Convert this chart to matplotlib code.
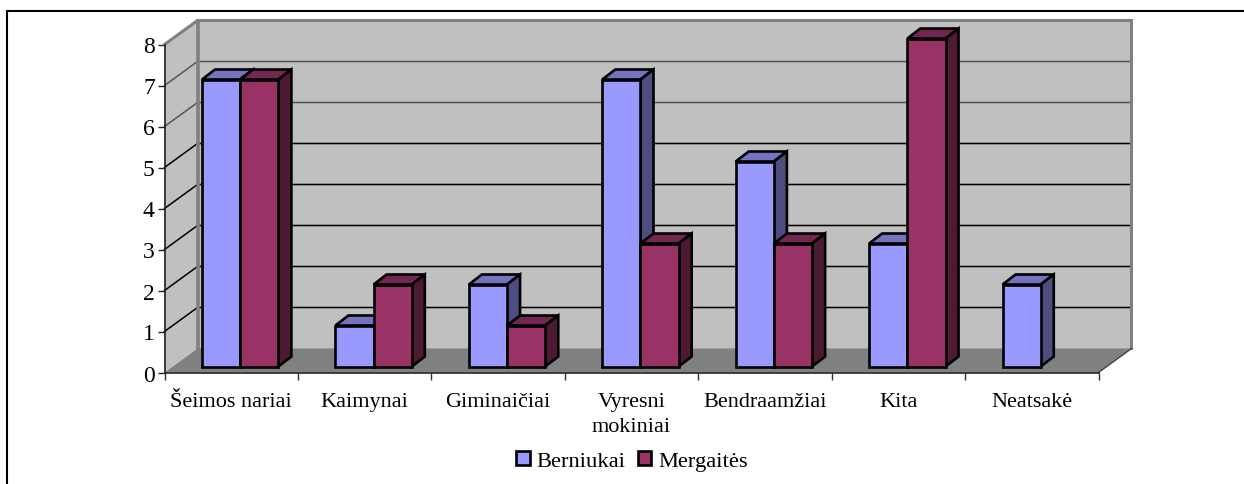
import matplotlib
matplotlib.use("Agg")
import matplotlib.pyplot as plt
from matplotlib.lines import Line2D
from matplotlib.patches import Patch, Polygon

plt.rcParams['font.family'] = ['Liberation Serif', 'DejaVu Sans']

categories = ["Šeimos nariai", "Kaimynai", "Giminaičiai", "Vyresni\nmokiniai",
              "Bendraamžiai", "Kita", "Neatsakė"]
berniukai = [7, 1, 2, 7, 5, 3, 2]
mergaites = [7, 2, 1, 3, 3, 8, 0]
y_ticks = [0, 1, 2, 3, 4, 5, 6, 7, 8]

W, H = 1244, 485
X0, X1 = 164.5, 1098.5
Y0, Y8 = 373.5, 45.5

fig = plt.figure(figsize=(W / 100, H / 100), dpi=100)
ax = fig.add_axes([X0 / W, 1 - Y0 / H, (X1 - X0) / W, (Y0 - Y8) / H])
ax.set_xlim(0, 7)
ax.set_ylim(0, 8)

# pixels -> data units, the 3D look is only a sheared copy of the front plane
ux = 7 / (X1 - X0)
uy = 8 / (Y0 - Y8)
DX, DY = 33 * ux, 24 * uy      # wall depth
BDX, BDY = 13 * ux, 10 * uy    # bar depth
GAPX, GAPY = 37.5 * ux, 6 * uy
BAR_W = 38.2 * ux


def poly(pts, fc, ec='none', lw=0, z=1):
    ax.add_patch(Polygon(pts, closed=True, facecolor=fc, edgecolor=ec, linewidth=lw,
                         joinstyle='miter', clip_on=False, zorder=z))


def bar3d(x, v, front, top, side, z):
    b = GAPY
    t = GAPY + v
    w = BAR_W
    poly([(x, t), (x + w, t), (x + w + BDX, t + BDY), (x + BDX, t + BDY)], top, 'black', 1.9, z)
    poly([(x + w, b), (x + w + BDX, b + BDY), (x + w + BDX, t + BDY), (x + w, t)], side, 'black', 1.9, z)
    poly([(x, b), (x + w, b), (x + w, t), (x, t)], front, 'black', 1.9, z)


# walls and floor
poly([(DX, DY), (7 + DX, DY), (7 + DX, 8 + DY), (DX, 8 + DY)], '#c0c0c0', z=1)
poly([(0, 0), (DX, DY), (DX, 8 + DY), (0, 8)], '#c0c0c0', z=1)
poly([(0, 0), (7, 0), (7 + DX, DY), (DX, DY)], '#808080', z=3)

for v in y_ticks[1:]:
    ax.add_line(Line2D([0, DX, 7 + DX], [v, v + DY, v + DY], color='black' if v < 6 else '#555555',
                       lw=1.1, clip_on=False, zorder=2))
# wall border
ax.add_line(Line2D([0, DX, 7 + DX, 7 + DX], [8, 8 + DY, 8 + DY, DY],
                   color='#808080', lw=2.2, clip_on=False, zorder=2, solid_joinstyle='miter'))
ax.add_line(Line2D([DX, DX], [DY, 8 + DY], color='#808080', lw=2.6, clip_on=False, zorder=2))
ax.add_line(Line2D([7, 7 + DX], [0, DY], color='#404040', lw=1, clip_on=False, zorder=4))

# bars, back to front is left to right here
for i, (b, m) in enumerate(zip(berniukai, mergaites)):
    x = i + GAPX
    if b > 0:
        bar3d(x, b, '#9999ff', '#7373bf', '#4d4d80', 5)
    if m > 0:
        bar3d(x + BAR_W, m, '#993366', '#732650', '#4d1a33', 6)

for side in ('top', 'right'):
    ax.spines[side].set_visible(False)
for side in ('left', 'bottom'):
    ax.spines[side].set_color('#222222')
    ax.spines[side].set_linewidth(1.2)
    ax.spines[side].set_zorder(7)
ax.patch.set_visible(False)

ax.set_yticks(y_ticks)
ax.set_xticks(range(8))
ax.set_xticklabels([])
ax.set_xticks([i + 0.5 for i in range(7)], minor=True)
ax.set_xticklabels(categories, minor=True, linespacing=1.4)
ax.tick_params(axis='x', which='minor', length=0, pad=14, labelsize=16)
ax.tick_params(axis='x', which='major', length=5, width=1, color='#333333')
ax.tick_params(axis='y', length=5, width=1, pad=2, labelsize=17, color='#222222')

# outer chart frame: left and top edges only, the rest is cropped away
fig.add_artist(Line2D([7.5 / W, 7.5 / W, 1], [0, 1 - 11.5 / H, 1 - 11.5 / H], color='black', lw=1.5,
                      solid_joinstyle='miter'))

handles = [Patch(facecolor='#9999ff', edgecolor='black', linewidth=1.9),
           Patch(facecolor='#993366', edgecolor='black', linewidth=1.9)]
fig.legend(handles, ["Berniukai", "Mergaitės"], ncol=2, frameon=False, fontsize=16.2,
           loc='center', bbox_to_anchor=(632 / W, 1 - 462 / H), handlelength=0.6, handleheight=0.6,
           handletextpad=0.3, columnspacing=0.55, borderpad=0)

fig.savefig("out.png", dpi=100)
